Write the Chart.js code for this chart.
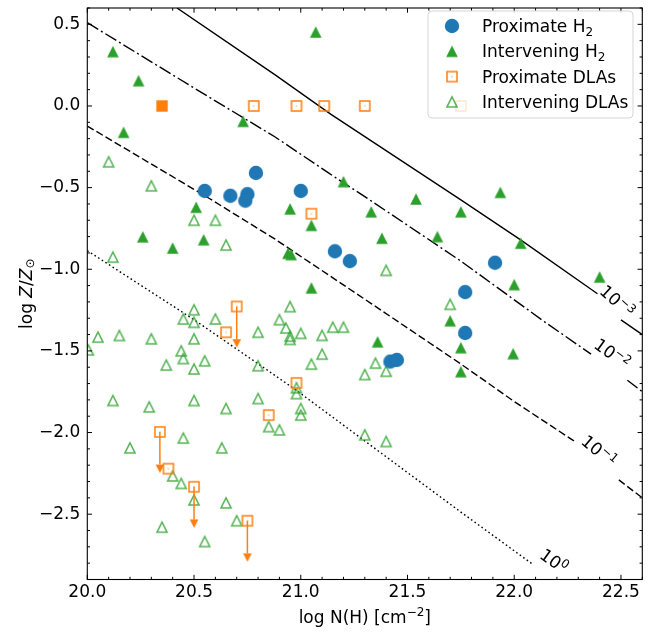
<!DOCTYPE html>
<html>
<head>
<meta charset="utf-8">
<script src="https://cdn.jsdelivr.net/npm/chart.js@4.4.0/dist/chart.umd.min.js"></script>
<style>
  html, body { margin: 0; padding: 0; background: #fff; }
  #wrap { width: 660px; height: 632px; }
</style>
</head>
<body>
<div id="wrap"><canvas id="chart" width="660" height="632"></canvas></div>
<script>
// ---- data ----
const proxH2X = [20.55, 20.67, 20.75, 20.74, 20.79, 21.00, 21.16, 21.23, 21.91, 21.77, 21.77, 21.42, 21.45];
const proxH2Y = [-0.52, -0.55, -0.54, -0.58, -0.41, -0.52, -0.89, -0.95, -0.96, -1.14, -1.39, -1.565, -1.555];

const intH2X = [20.12, 20.24, 20.17, 20.73, 21.07, 21.20, 21.54, 21.935, 21.75, 22.03, 22.00, 22.40, 20.95, 21.05, 20.94,
                20.955, 21.05, 21.38, 21.33, 21.64, 21.70, 21.36, 21.75, 21.75, 21.995, 20.51, 20.26, 20.40, 20.545];
const intH2Y = [0.333, 0.155, -0.161, -0.094, 0.453, -0.463, -0.57, -0.529, -0.648, -0.84, -1.094, -1.047, -0.63, -0.731, -0.902,
                -0.91, -1.114, -0.81, -0.648, -0.80, -1.315, -1.444, -1.48, -1.627, -1.517, -0.62, -0.801, -0.87, -0.819];

const proxDLAX = [20.78, 20.98, 21.11, 21.30, 21.75, 21.05, 20.65, 20.38, 20.85, 20.98];
const proxDLAY = [0.0, 0.0, 0.0, 0.0, 0.0, -0.66, -1.386, -2.221, -1.893, -1.696];
// upper limits (arrows)
const proxDLALimX = [20.70, 20.34, 20.50, 20.75];
const proxDLALimY = [-1.228, -1.996, -2.332, -2.54];
const limitLength = 0.2;
const proxDLAFilledX = [20.35];
const proxDLAFilledY = [0.0];

const intDLAX = [20.10, 20.30, 20.50, 20.60, 20.65, 20.12, 20.50, 20.45, 20.50, 20.60, 20.05, 20.15, 20.30, 20.50, 20.80,
                 20.005, 20.44, 20.45, 20.37, 20.55, 20.50, 20.80, 20.12, 20.29, 20.50, 20.65, 20.80, 20.45, 20.20, 20.63,
                 20.40, 20.44, 20.50, 20.65, 20.70, 20.35, 20.55, 20.85, 20.90, 20.95, 20.90, 20.93, 20.95, 20.95, 21.00,
                 21.10, 21.10, 21.05, 20.98, 20.98, 21.00, 21.00, 21.40, 21.15, 21.20, 21.35, 21.30, 21.40, 21.70, 21.30, 21.40];
const intDLAY = [-0.342, -0.489, -0.70, -0.70, -0.852, -0.926, -1.248, -1.305, -1.325, -1.305, -1.416, -1.406, -1.426, -1.426, -1.386,
                 -1.494, -1.50, -1.547, -1.587, -1.561, -1.611, -1.591, -1.804, -1.843, -1.804, -1.853, -1.792, -2.034, -2.094, -2.094,
                 -2.266, -2.312, -2.413, -2.431, -2.54, -2.58, -2.668, -1.964, -1.984, -1.229, -1.309, -1.36, -1.41, -1.43, -1.393,
                 -1.405, -1.52, -1.581, -1.726, -1.762, -1.853, -1.893, -1.007, -1.355, -1.355, -1.575, -1.645, -1.625, -1.215, -2.014, -2.055];

// model curves (null = break for the inline label)
const curve3X = [20.42, 20.88, 21.14, 21.75, 22.03, 22.39, null, 22.50, 22.60];
const curve3Y = [0.60, 0.19, -0.05, -0.575, -0.82, -1.15, null, -1.31, -1.40];
const curve2X = [20.00, 20.50, 20.88, 21.13, 21.34, 21.75, 22.14, 22.36, null, 22.53, 22.60];
const curve2Y = [0.51, 0.11, -0.19, -0.41, -0.59, -0.95, -1.32, -1.52, null, -1.68, -1.75];
const curve1X = [20.00, 20.57, 20.88, 21.33, 21.75, 22.00, 22.29, null, 22.49, 22.60];
const curve1Y = [-0.123, -0.565, -0.816, -1.21, -1.58, -1.81, -2.06, null, -2.29, -2.40];
const curve0X = [20.00, 20.50, 20.88, 20.98, 21.75, 22.09];
const curve0Y = [-0.886, -1.309, -1.651, -1.742, -2.487, -2.81];

const curveLabelX = [22.48, 22.457, 22.395, 22.184];
const curveLabelY = [-1.198, -1.52, -2.115, -2.789];
const curveLabelExp = ['\u22123', '\u22122', '\u22121', '0'];

const xMajorTicks = [20.0, 20.5, 21.0, 21.5, 22.0, 22.5];
const yMajorTicks = [-2.5, -2.0, -1.5, -1.0, -0.5, 0.0, 0.5];
const legendLabels = ['Proximate H', 'Intervening H', 'Proximate DLAs', 'Intervening DLAs'];
const legendSubs = ['2', '2', '', ''];

const BLUE = '#1f77b4', GREEN = '#2ca02c', ORANGE = '#ff7f0e', GREEN_A = 'rgba(44,160,44,0.8)';
const FONT = '"DejaVu Sans", sans-serif';
const FS = 17, FS_SMALL = 12;

function pts(xs, ys) {
  return xs.map((x, i) => ({ x: x, y: ys[i] }));
}

// marker images
function makeMarker(size, draw) {
  const c = document.createElement('canvas');
  c.width = size; c.height = size;
  draw(c.getContext('2d'), size / 2);
  return c;
}
const circleImg = makeMarker(16, (ctx, m) => {
  ctx.fillStyle = BLUE; ctx.beginPath(); ctx.arc(m, m, 7.2, 0, Math.PI * 2); ctx.fill();
});
function triPath(ctx, m, h) {
  ctx.beginPath();
  ctx.moveTo(m, m - h); ctx.lineTo(m - h, m + h); ctx.lineTo(m + h, m + h); ctx.closePath();
}
const triFilledImg = makeMarker(16, (ctx, m) => {
  triPath(ctx, m, 5.8); ctx.fillStyle = GREEN; ctx.fill();
});
const triOpenImg = makeMarker(16, (ctx, m) => {
  triPath(ctx, m, 5.1); ctx.strokeStyle = GREEN_A; ctx.lineWidth = 1.5; ctx.lineJoin = 'miter'; ctx.stroke();
});
const sqOpenImg = makeMarker(16, (ctx, m) => {
  ctx.strokeStyle = ORANGE; ctx.lineWidth = 1.5; ctx.strokeRect(m - 5, m - 5, 10, 10);
  ctx.fillStyle = ORANGE; ctx.fillRect(m - 0.5, m - 0.5, 1, 1);
});
const sqFilledImg = makeMarker(16, (ctx, m) => {
  ctx.fillStyle = ORANGE; ctx.fillRect(m - 5.7, m - 5.7, 11.4, 11.4);
});
const caretImg = makeMarker(20, (ctx, m) => {
  ctx.fillStyle = ORANGE; ctx.beginPath();
  ctx.moveTo(m - 4.3, m); ctx.lineTo(m + 4.3, m); ctx.lineTo(m, m + 8.5); ctx.closePath(); ctx.fill();
});

// arrow stems for the limits
const stemData = [];
proxDLALimX.forEach((x, i) => {
  stemData.push({ x: x, y: proxDLALimY[i] }, { x: x, y: proxDLALimY[i] - limitLength }, { x: x, y: null });
});
const caretData = proxDLALimX.map((x, i) => ({ x: x, y: proxDLALimY[i] - limitLength }));

function curveSet(xs, ys, dash) {
  return {
    data: pts(xs, ys), showLine: true, pointRadius: 0, borderColor: '#000', borderWidth: 1.4,
    borderDash: dash, spanGaps: false, order: 20, borderCapStyle: 'butt'
  };
}

function markerSet(data, img, order) {
  return { data: data, pointStyle: img, pointRadius: 7, showLine: false, order: order };
}

function mixedText(ctx, parts, x, y, align) {
  let total = 0;
  parts.forEach(p => { ctx.font = (p.italic ? 'italic ' : '') + p.size + 'px ' + FONT; p.w = ctx.measureText(p.t).width; total += p.w; });
  let cx = align === 'center' ? x - total / 2 : x;
  parts.forEach(p => {
    ctx.font = (p.italic ? 'italic ' : '') + p.size + 'px ' + FONT;
    ctx.fillText(p.t, cx, y + (p.dy || 0));
    cx += p.w;
  });
}

const decorPlugin = {
  id: 'decor',
  afterDatasetsDraw(chart) {
    const ctx = chart.ctx, xs = chart.scales.x, ys = chart.scales.y;
    const curves = [[curve3X, curve3Y], [curve2X, curve2Y], [curve1X, curve1Y], [curve0X, curve0Y]];
    ctx.save();
    ctx.fillStyle = '#000';
    ctx.textBaseline = 'alphabetic';
    curveLabelX.forEach((lx, i) => {
      const cx = curves[i][0], cy = curves[i][1];
      let k = cx.indexOf(null);
      let a, b;
      if (k > 0) { a = k - 1; b = cx.length - 1; } else { a = cx.length - 2; b = cx.length - 1; }
      const ang = Math.atan2(ys.getPixelForValue(cy[b]) - ys.getPixelForValue(cy[a]),
                             xs.getPixelForValue(cx[b]) - xs.getPixelForValue(cx[a]));
      ctx.save();
      ctx.translate(xs.getPixelForValue(lx), ys.getPixelForValue(curveLabelY[i]));
      ctx.rotate(ang);
      mixedText(ctx, [{ t: '10', size: FS }, { t: curveLabelExp[i], size: FS_SMALL, dy: -6.5 }], 0, 5.5, 'center');
      ctx.restore();
    });
    ctx.restore();
  },
  afterDraw(chart) {
    const ctx = chart.ctx, a = chart.chartArea, xs = chart.scales.x, ys = chart.scales.y;
    ctx.save();
    // frame
    ctx.strokeStyle = '#000'; ctx.lineWidth = 1.1;
    ctx.strokeRect(a.left, a.top, a.right - a.left, a.bottom - a.top);
    // inward ticks on all four sides
    ctx.lineWidth = 1;
    ctx.beginPath();
    for (let i = 0; i <= 26; i++) {
      const v = 20 + i * 0.1, px = xs.getPixelForValue(v);
      const len = (i % 5 === 0) ? 4.7 : 2.7;
      ctx.moveTo(px, a.bottom); ctx.lineTo(px, a.bottom - len);
      ctx.moveTo(px, a.top); ctx.lineTo(px, a.top + len);
    }
    for (let i = 0; i <= 35; i++) {
      const v = -2.9 + i * 0.1, py = ys.getPixelForValue(v);
      const len = (Math.abs(Math.round(v * 10)) % 5 === 0) ? 4.7 : 2.7;
      ctx.moveTo(a.left, py); ctx.lineTo(a.left + len, py);
      ctx.moveTo(a.right, py); ctx.lineTo(a.right - len, py);
    }
    ctx.stroke();

    // axis titles
    ctx.fillStyle = '#000';
    ctx.textBaseline = 'alphabetic';
    mixedText(ctx, [{ t: 'log N(H) [cm', size: FS }, { t: '\u22122', size: FS_SMALL, dy: -7 }, { t: ']', size: FS }],
      (a.left + a.right) / 2, 623, 'center');
    ctx.save();
    ctx.translate(32, (a.top + a.bottom) / 2);
    ctx.rotate(-Math.PI / 2);
    mixedText(ctx, [{ t: 'log ', size: FS }, { t: 'Z', size: FS, italic: true }, { t: '/', size: FS },
      { t: 'Z', size: FS, italic: true }, { t: '\u2299', size: FS_SMALL, dy: 2 }], 0, 0, 'center');
    ctx.restore();

    // legend
    const lx = 428, ly = 11, lw = 205, lh = 107;
    ctx.beginPath();
    ctx.roundRect(lx, ly, lw, lh, 4);
    ctx.fillStyle = 'rgba(255,255,255,0.8)'; ctx.fill();
    ctx.strokeStyle = 'rgba(204,204,204,0.8)'; ctx.lineWidth = 1; ctx.stroke();
    const imgs = [circleImg, triFilledImg, sqOpenImg, triOpenImg];
    ctx.fillStyle = '#000';
    ctx.textBaseline = 'alphabetic';
    legendLabels.forEach((lab, i) => {
      const cy = 26 + i * 25.3;
      ctx.drawImage(imgs[i], 452 - imgs[i].width / 2, cy - imgs[i].height / 2);
      const parts = [{ t: lab, size: FS }];
      if (legendSubs[i]) parts.push({ t: legendSubs[i], size: FS_SMALL, dy: 3.5 });
      mixedText(ctx, parts, 482, cy + 6, 'left');
    });
    ctx.restore();
  }
};

new Chart(document.getElementById('chart'), {
  type: 'scatter',
  data: {
    datasets: [
      curveSet(curve3X, curve3Y, []),
      curveSet(curve2X, curve2Y, [12.8, 3.2, 2, 3.2]),
      curveSet(curve1X, curve1Y, [7.4, 3.2]),
      curveSet(curve0X, curve0Y, [1.6, 2.7]),
      markerSet(pts(intDLAX, intDLAY), triOpenImg, 8),
      { data: stemData, showLine: true, pointRadius: 0, borderColor: ORANGE, borderWidth: 1.5, spanGaps: false, order: 7 },
      markerSet(caretData, caretImg, 6),
      markerSet(pts(proxDLALimX, proxDLALimY), sqOpenImg, 5),
      markerSet(pts(proxDLAX, proxDLAY), sqOpenImg, 5),
      markerSet(pts(proxDLAFilledX, proxDLAFilledY), sqFilledImg, 5),
      markerSet(pts(intH2X, intH2Y), triFilledImg, 3),
      markerSet(pts(proxH2X, proxH2Y), circleImg, 2)
    ]
  },
  options: {
    responsive: false,
    animation: false,
    devicePixelRatio: 1,
    layout: { padding: { left: 0, right: 17.7, top: 3.5, bottom: 0 } },
    plugins: { legend: { display: false }, tooltip: { enabled: false } },
    scales: {
      x: {
        type: 'linear', min: 20.0, max: 22.6,
        grid: { display: false, drawTicks: false }, border: { display: false },
        afterBuildTicks: s => { s.ticks = xMajorTicks.map(v => ({ value: v })); },
        afterFit: s => { s.height = 52.5; s.paddingLeft = 0; s.paddingRight = 0; },
        ticks: { callback: v => v.toFixed(1), color: '#000', font: { family: FONT, size: FS }, padding: 3, maxRotation: 0, autoSkip: false }
      },
      y: {
        type: 'linear', min: -2.9, max: 0.6,
        grid: { display: false, drawTicks: false }, border: { display: false },
        afterBuildTicks: s => { s.ticks = yMajorTicks.map(v => ({ value: v })); },
        afterFit: s => { s.width = 87.3; s.paddingTop = 0; s.paddingBottom = 0; },
        ticks: { callback: v => (v < 0 ? '\u2212' : '') + Math.abs(v).toFixed(1), color: '#000', font: { family: FONT, size: FS }, padding: 7, autoSkip: false }
      }
    }
  },
  plugins: [decorPlugin]
});
</script>
</body>
</html>
